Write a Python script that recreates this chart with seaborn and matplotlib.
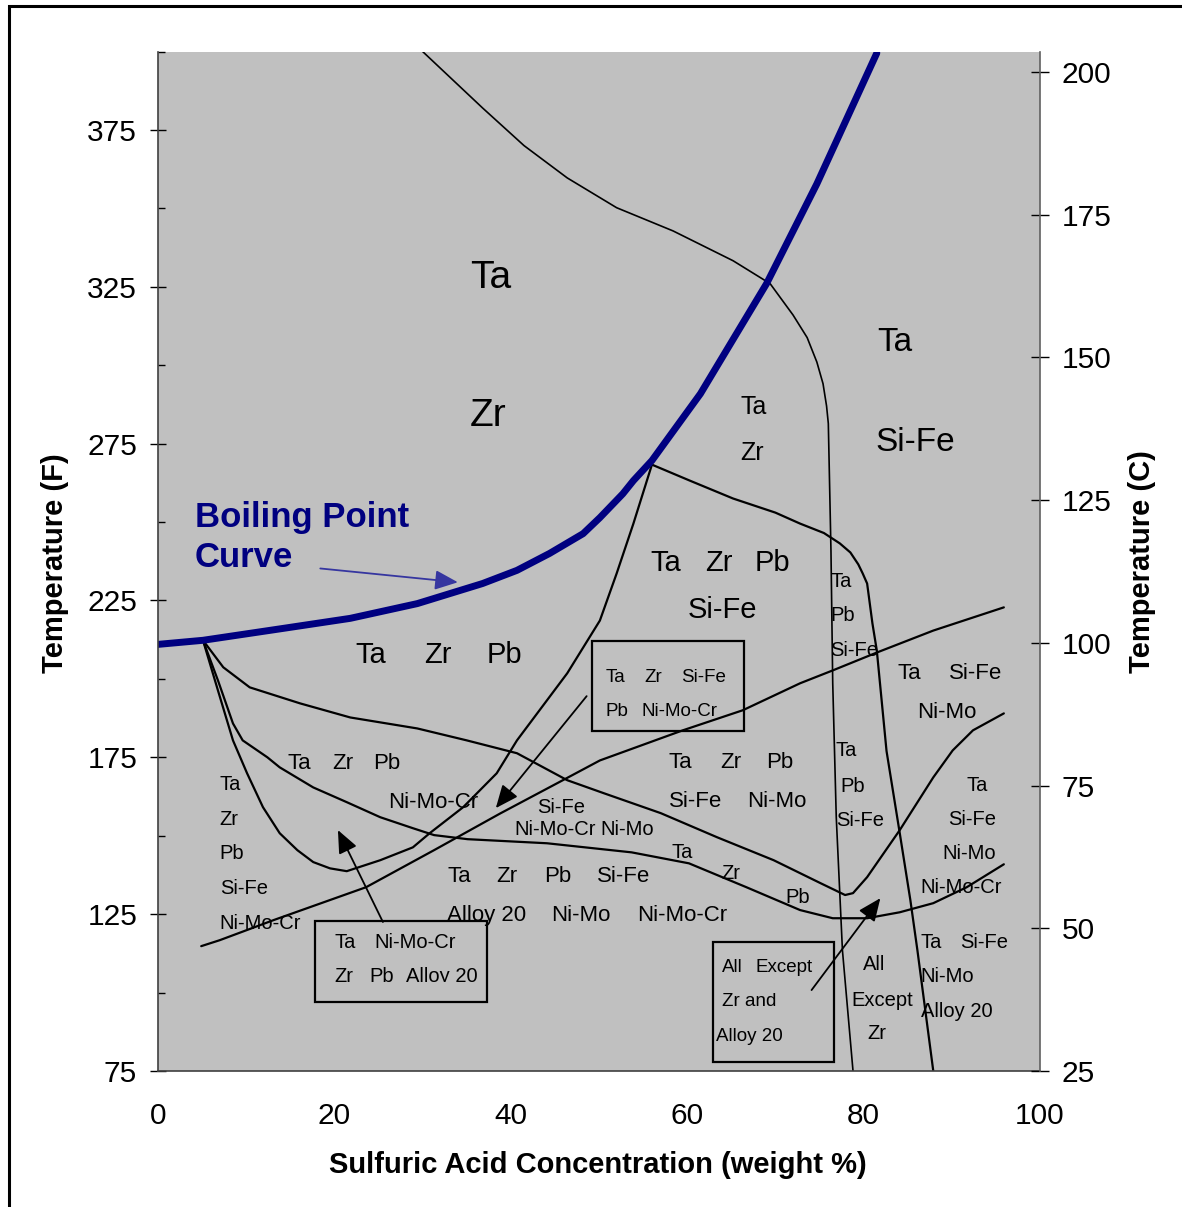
import numpy as np
import pandas as pd
import seaborn as sns
import matplotlib.pyplot as plt
from matplotlib.patches import Rectangle
from matplotlib.ticker import MultipleLocator

sns.set_style("white")
plt.rcParams['font.family'] = ['Liberation Sans', 'DejaVu Sans']
plt.rcParams['text.color'] = 'black'
plt.rcParams['xtick.color'] = 'black'
plt.rcParams['ytick.color'] = 'black'

# boiling point of sulfuric acid (wt %, deg F)
bp_x = [0, 5.1, 14.2, 21.8, 29.4, 36.8, 40.7, 44.4, 48.2, 50.1, 52.7, 53.9, 56.0, 61.5, 69.0, 74.7, 81.5]
bp_f = [211.0, 212.3, 216.1, 219.3, 224.0, 230.4, 234.6, 240.0, 246.3, 251.4, 259.0, 263.2, 269.6,
        290.9, 326.0, 357.8, 399.5]

# iso-corrosion boundaries
a_x = [30.0, 36.8, 41.5, 46.4, 52.0, 58.4, 65.2, 69.4, 72.0, 73.6, 74.7, 75.4, 75.8, 76.0, 76.3,
       76.5, 76.9, 77.6, 78.8]
a_f = [400.0, 382.0, 370.0, 359.7, 350.2, 342.8, 333.3, 326.0, 316.0, 308.8, 301.0, 294.1, 287.0,
       281.4, 240.9, 198.6, 155.9, 113.5, 75.0]

b_x = [56.0, 60.3, 65.2, 70.0, 72.8, 75.5, 77.3, 78.5, 79.4, 79.9, 80.4, 81.0, 81.5, 82.6, 84.1,
       85.3, 86.1, 87.9]
b_f = [268.3, 263.2, 257.5, 253.0, 249.5, 246.5, 243.2, 240.3, 236.5, 233.6, 230.4, 217.7, 209.0,
       177.0, 150.8, 129.5, 113.5, 75.0]

c_x = [5.1, 6.8, 8.5, 10.1, 11.9, 13.8, 15.8, 17.6, 19.5, 21.4, 25.2, 28.9, 30.8, 34.6, 38.4,
       40.7, 46.4, 50.1, 52.0, 53.9, 56.0]
c_f = [212.3, 196.3, 180.4, 169.9, 159.1, 150.8, 145.4, 141.6, 139.6, 138.7, 142.2, 146.3, 150.8,
       159.1, 169.9, 180.4, 201.8, 218.6, 233.6, 249.5, 268.3]

d_x = [5.1, 7.4, 10.4, 16.1, 21.8, 29.4, 35.0, 40.7, 46.4, 50.6, 57.0, 63.4, 69.8, 75.1, 77.9,
       78.8, 80.4, 84.1, 87.9, 90.1, 92.4, 95.9]
d_f = [212.3, 203.7, 197.3, 192.2, 187.7, 184.2, 180.4, 176.3, 167.7, 163.5, 157.2, 149.5, 142.2,
       134.9, 131.1, 131.7, 136.8, 151.8, 168.6, 177.2, 183.6, 189.0]

e_x = [5.1, 6.8, 8.5, 9.6, 12.4, 13.8, 17.6, 21.4, 25.2, 28.9, 31.3, 35.1, 44.1, 53.7, 60.2,
       66.7, 72.8, 76.5, 80.4, 84.1, 87.9, 91.7, 95.9]
e_f = [212.3, 199.5, 185.8, 180.4, 175.0, 171.8, 165.4, 160.7, 155.9, 152.4, 150.2, 148.9, 147.6,
       144.7, 141.2, 133.6, 126.3, 123.7, 123.7, 125.6, 128.5, 133.6, 140.9]

f_x = [4.9, 7.0, 13.1, 23.6, 31.3, 38.8, 45.9, 50.1, 59.5, 66.3, 72.8, 76.5, 81.5, 87.9, 95.9]
f_f = [114.8, 116.7, 123.1, 133.6, 145.4, 157.1, 167.7, 174.0, 183.6, 190.0, 198.6, 202.7, 208.4, 215.4, 222.8]

# region labels: (text, wt %, deg F)
labels_xl = [("Ta", 35.4, 327.9), ("Zr", 35.4, 283.9)]
labels_l = [("Ta", 81.5, 307.2), ("Si-Fe", 81.4, 275.3)]
labels_m = [("Ta", 22.4, 207.5), ("Zr", 30.2, 207.5), ("Pb", 37.3, 207.5),
            ("Ta", 55.8, 236.8), ("Zr", 62.0, 236.8), ("Pb", 67.7, 236.8), ("Si-Fe", 60.1, 221.8)]
labels_s = [("Ta", 66.0, 286.8), ("Zr", 66.0, 272.1)]
labels_16 = [("Ta", 14.7, 173.1), ("Zr", 19.8, 173.1), ("Pb", 24.4, 173.1), ("Ni-Mo-Cr", 26.1, 160.7),
             ("Ta", 57.9, 173.4), ("Zr", 63.7, 173.4), ("Pb", 69.0, 173.4),
             ("Si-Fe", 57.9, 161.0), ("Ni-Mo", 66.8, 161.0),
             ("Ta", 32.8, 137.1), ("Zr", 38.4, 137.1), ("Pb", 43.8, 137.1), ("Si-Fe", 49.8, 137.1),
             ("Alloy 20", 32.8, 124.7), ("Ni-Mo", 44.6, 124.7), ("Ni-Mo-Cr", 54.3, 124.7),
             ("Ta", 83.8, 201.8), ("Si-Fe", 89.7, 201.8), ("Ni-Mo", 86.1, 189.3)]
labels_14 = [("Ta", 7.0, 166.4), ("Zr", 7.0, 155.3), ("Pb", 7.0, 144.4), ("Si-Fe", 7.0, 133.3),
             ("Ni-Mo-Cr", 7.0, 122.1),
             ("Si-Fe", 43.0, 159.1), ("Ni-Mo-Cr", 40.4, 152.1), ("Ni-Mo", 50.2, 152.1),
             ("Ta", 58.2, 144.7), ("Zr", 63.9, 138.1), ("Pb", 71.1, 130.4),
             ("Ta", 76.2, 231.1), ("Pb", 76.2, 220.2), ("Si-Fe", 76.2, 209.1),
             ("Ta", 76.8, 177.2), ("Pb", 77.4, 165.8), ("Si-Fe", 76.9, 154.9),
             ("Ta", 91.7, 166.1), ("Si-Fe", 89.6, 155.3), ("Ni-Mo", 88.9, 144.4), ("Ni-Mo-Cr", 86.4, 133.6),
             ("Ta", 86.5, 116.1), ("Si-Fe", 91.0, 116.1), ("Ni-Mo", 86.4, 105.0), ("Alloy 20", 86.5, 94.1),
             ("All", 79.9, 108.8), ("Except", 78.6, 97.6), ("Zr", 80.4, 86.8),
             ("Ta", 20.0, 116.1), ("Ni-Mo-Cr", 24.5, 116.1)]
labels_box = [("Ta", 50.7, 200.5), ("Zr", 55.2, 200.5), ("Si-Fe", 59.3, 200.5),
              ("Pb", 50.7, 189.6), ("Ni-Mo-Cr", 54.8, 189.6),
              ("All", 63.9, 108.1), ("Except", 67.8, 108.1), ("Zr and", 63.9, 97.0), ("Alloy 20", 63.3, 86.1)]
labels_cut = [("Zr", 20.0, 105.0), ("Pb", 24.0, 105.0), ("Alloy 20", 28.1, 105.0)]

# boxes (x0, f0, x1, f1)
boxes = [(49.2, 183.4, 66.4, 212.0), (17.8, 97.1, 37.3, 122.8), (62.9, 77.8, 76.6, 116.2)]
# arrows (tail x, tail f, head x, head f)
arrows = [(48.6, 194.5, 38.3, 158.8), (25.5, 122.5, 20.4, 151.8), (74.1, 100.8, 81.9, 130.1)]

fig = plt.figure(figsize=(11.82, 12.07), dpi=100)
ax = fig.add_axes([158 / 1182, 1 - 1071 / 1207, 882 / 1182, 1019.5 / 1207])
ax.set_facecolor('#C0C0C0')

for xs, fs in [(a_x, a_f), (b_x, b_f), (c_x, c_f), (d_x, d_f), (e_x, e_f), (f_x, f_f)]:
    lw = 1.2 if xs is a_x else 1.6
    sns.lineplot(x=xs, y=fs, sort=False, estimator=None, color='black', lw=lw, ax=ax)
sns.lineplot(x=bp_x, y=bp_f, sort=False, estimator=None, color='#000080', lw=5, ax=ax)

for x0, f0, x1, f1 in boxes:
    ax.add_patch(Rectangle((x0, f0), x1 - x0, f1 - f0, fill=False, ec='black', lw=1.6, zorder=3))

for tx, tf, hx, hf in arrows:
    ax.annotate("", xy=(hx, hf), xytext=(tx, tf),
                arrowprops=dict(arrowstyle='-|>,head_length=0.7,head_width=0.3', color='black',
                                lw=1.3, shrinkA=0, shrinkB=0, mutation_scale=20))
ax.annotate("", xy=(34.0, 230.8), xytext=(18.4, 235.2),
            arrowprops=dict(arrowstyle='-|>,head_length=0.7,head_width=0.3', color='#3636a0',
                            lw=1.3, shrinkA=0, shrinkB=0, mutation_scale=20))

for group, size in [(labels_xl, 28), (labels_l, 24), (labels_m, 21), (labels_s, 18),
                    (labels_16, 16), (labels_14, 14.5), (labels_box, 13.5)]:
    for txt, x, f in group:
        ax.text(x, f, txt, fontsize=size, ha='left', va='center', color='black', zorder=4)

# bottom line of the left box is cut off in the original
clip = Rectangle((17.8, 103.4), 19.5, 20, transform=ax.transData)
for txt, x, f in labels_cut:
    t = ax.text(x, f, txt, fontsize=14.5, ha='left', va='center', color='black', zorder=4)
    t.set_clip_path(clip)
    t.set_clip_on(True)

ax.text(4.2, 251.4, "Boiling Point", fontsize=25, fontweight='bold', color='#000080', ha='left', va='center')
ax.text(4.2, 238.7, "Curve", fontsize=25, fontweight='bold', color='#000080', ha='left', va='center')

ax.set_xlim(0, 100)
ax.set_ylim(75, 400)
ax.xaxis.set_major_locator(MultipleLocator(20))
ax.xaxis.set_minor_locator(MultipleLocator(10))
ax.set_yticks([75, 125, 175, 225, 275, 325, 375])
ax.set_yticks([100, 150, 200, 250, 300, 350, 400], minor=True)
ax.tick_params(axis='x', which='both', direction='in', length=6.5, width=1, labelsize=21.5, pad=22)
ax.tick_params(axis='y', which='major', direction='inout', length=12, width=1, labelsize=21.5, pad=9)
ax.tick_params(axis='y', which='minor', direction='in', length=5, width=1, left=True)
ax.spines['top'].set_visible(False)
ax.spines['right'].set_visible(False)
for s in ['left', 'bottom']:
    ax.spines[s].set_color('#404040')
    ax.spines[s].set_linewidth(1.2)

ax2 = ax.twinx()
ax2.set_ylim(25, 203.6)
ax2.set_yticks([25, 50, 75, 100, 125, 150, 175, 200])
ax2.tick_params(axis='y', direction='inout', length=13, width=1, labelsize=21.5, pad=9)
for s in ['top', 'left', 'bottom']:
    ax2.spines[s].set_visible(False)
ax2.spines['right'].set_color('#606060')
ax2.spines['right'].set_linewidth(1.2)

fig.text(55 / 1182, 1 - 563 / 1207, "Temperature (F)", rotation=90, ha='center', va='center',
         fontsize=21, fontweight='bold')
fig.text(1142 / 1182, 1 - 562 / 1207, "Temperature (C)", rotation=90, ha='center', va='center',
         fontsize=21, fontweight='bold')
fig.text(598 / 1182, 1 - 1165 / 1207, "Sulfuric Acid Concentration (weight %)", ha='center', va='center',
         fontsize=21, fontweight='bold')

fig.add_artist(Rectangle((9 / 1182, -0.02), 1.1, 1.02 - 6 / 1207, fill=False, ec='black', lw=2.2,
                         transform=fig.transFigure))

fig.savefig("out.png", dpi=100)
